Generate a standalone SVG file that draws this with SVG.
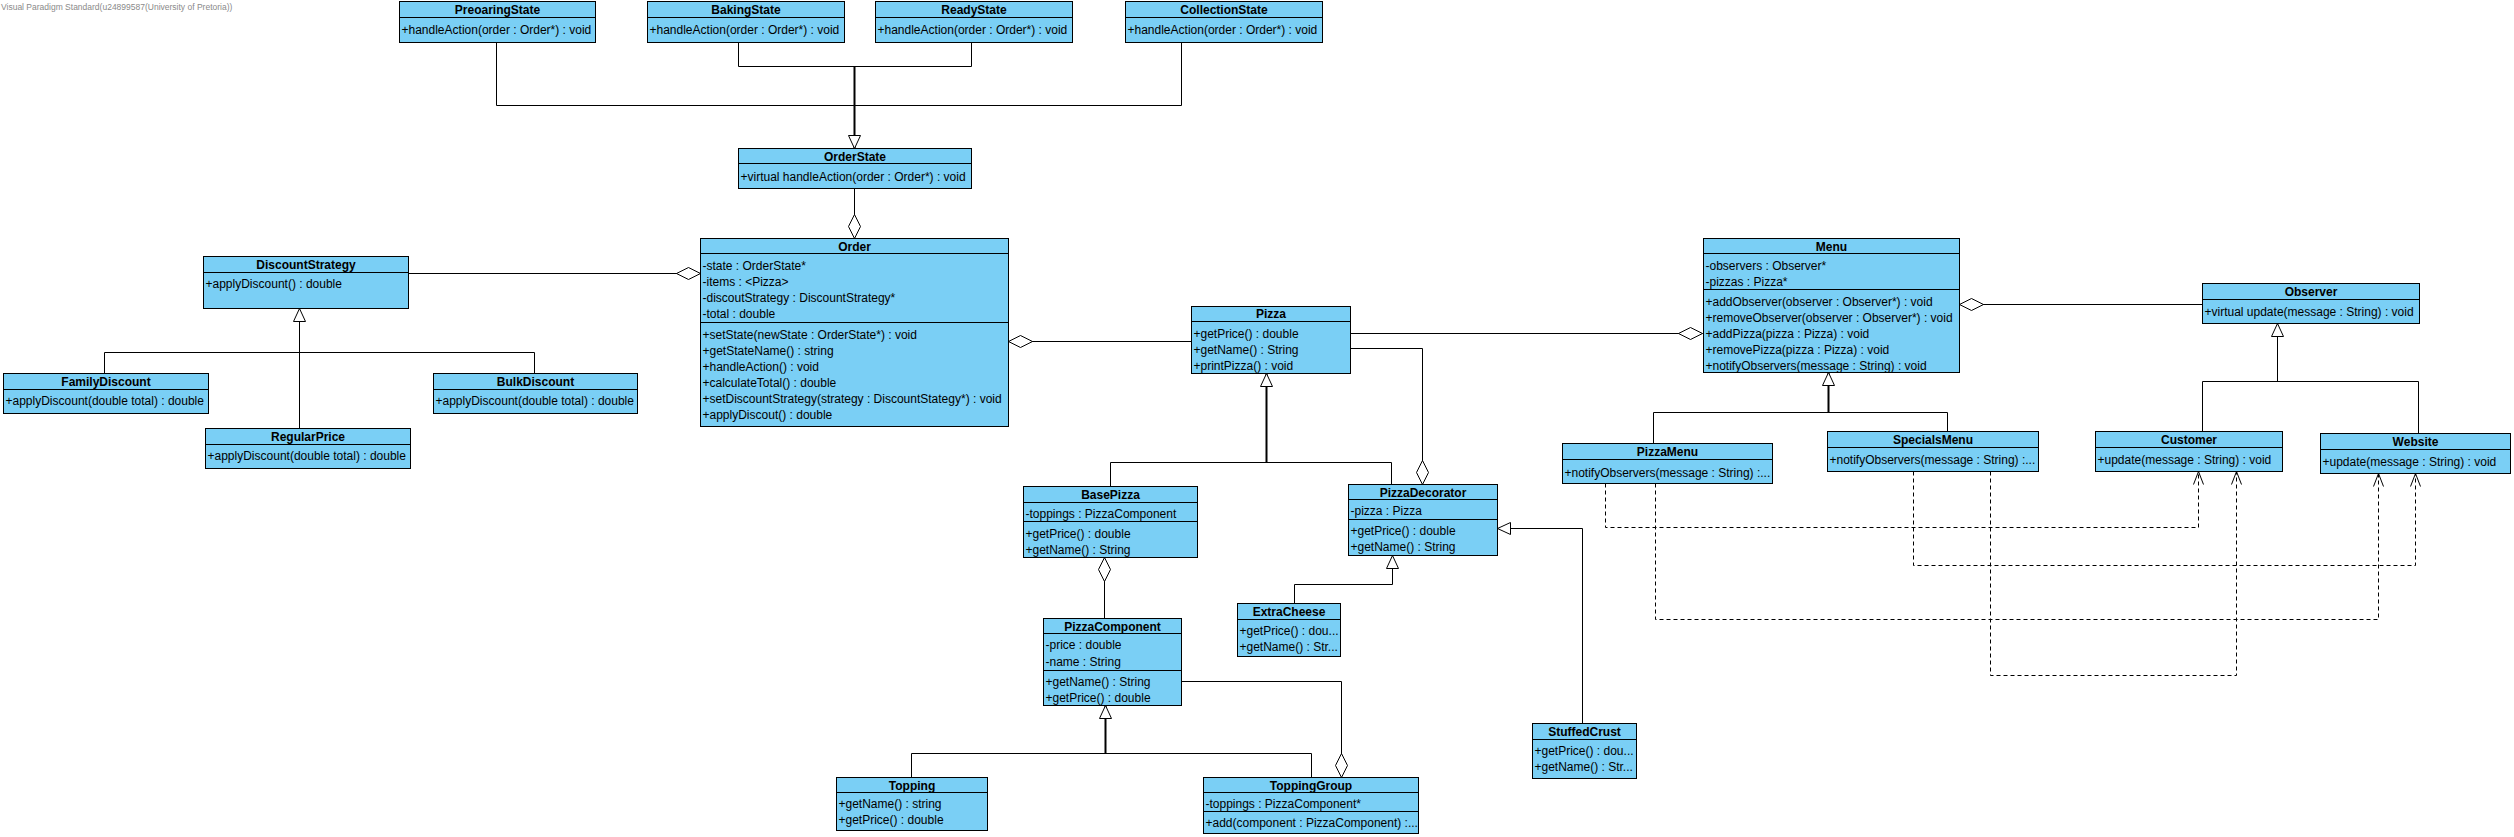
<svg xmlns="http://www.w3.org/2000/svg" width="2514" height="837" viewBox="0 0 2514 837">
<style>
.box{fill:#7ACFF5;stroke:#000;stroke-width:1}
.sep{stroke:#000;stroke-width:1}
.t{font-family:"Liberation Sans",Arial,sans-serif;font-size:12px;fill:#000}
.ti{font-weight:bold;text-anchor:middle}
.ln{fill:none;stroke:#000;stroke-width:1}
.thick{stroke-width:2}
.dash{stroke-dasharray:4 3}
.wm{font-family:"Liberation Sans",Arial,sans-serif;font-size:8.5px;fill:#8a8a8a}
</style>
<defs>
<marker id="gen" markerUnits="userSpaceOnUse" markerWidth="16" markerHeight="16" viewBox="-14 -8 16 16" refX="0" refY="0" orient="auto">
<path d="M0,0 L-13,-6 L-13,6 Z" fill="#fff" stroke="#000" stroke-width="1"/>
</marker>
<marker id="agg" markerUnits="userSpaceOnUse" markerWidth="28" markerHeight="16" viewBox="-26 -8 28 16" refX="0" refY="0" orient="auto">
<path d="M0,0 L-12,-6 L-24,0 L-12,6 Z" fill="#fff" stroke="#000" stroke-width="1"/>
</marker>
<marker id="dep" markerUnits="userSpaceOnUse" markerWidth="16" markerHeight="16" viewBox="-14 -8 16 16" refX="0" refY="0" orient="auto">
<path d="M-13,-5 L0,0 L-13,5" fill="none" stroke="#000" stroke-width="1"/>
</marker>
</defs>
<rect x="0" y="0" width="2514" height="837" fill="#fff"/>
<text class="wm" x="1" y="10">Visual Paradigm Standard(u24899587(University of Pretoria))</text>
<g transform="translate(0.5,0.5)">
<g id="connectors">
<!-- state generalizations -->
<path class="ln" d="M496,42 V105 H1181 V42"/>
<path class="ln" d="M738,42 V66 H971 V42"/>
<path class="ln thick" d="M854,66 V148" marker-end="url(#gen)"/>
<!-- OrderState - Order -->
<path class="ln" d="M854,188 V238" marker-end="url(#agg)"/>
<!-- DiscountStrategy - Order -->
<path class="ln" d="M408,273 H700" marker-end="url(#agg)"/>
<!-- discount generalization -->
<path class="ln" d="M104,373 V352 H534 V373"/>
<path class="ln" d="M299,428 V308" marker-end="url(#gen)"/>
<!-- Order - Pizza -->
<path class="ln" d="M1191,341 H1008" marker-end="url(#agg)"/>
<!-- Pizza - Menu -->
<path class="ln" d="M1350,333 H1702" marker-end="url(#agg)"/>
<!-- Menu - Observer -->
<path class="ln" d="M2202,304 H1959" marker-end="url(#agg)"/>
<!-- Pizza - PizzaDecorator -->
<path class="ln" d="M1350,348 H1422 V484" marker-end="url(#agg)"/>
<!-- Pizza generalization -->
<path class="ln" d="M1110,486 V462 H1391 V484"/>
<path class="ln thick" d="M1266,462 V373" marker-end="url(#gen)"/>
<!-- ExtraCheese - PizzaDecorator -->
<path class="ln" d="M1294,603 V584 H1392 V555" marker-end="url(#gen)"/>
<!-- StuffedCrust - PizzaDecorator -->
<path class="ln" d="M1582,723 V528 H1497" marker-end="url(#gen)"/>
<!-- BasePizza - PizzaComponent -->
<path class="ln" d="M1104,618 V557" marker-end="url(#agg)"/>
<!-- PizzaComponent generalization -->
<path class="ln" d="M911,777 V753 H1311 V777"/>
<path class="ln thick" d="M1105,753 V705" marker-end="url(#gen)"/>
<!-- PizzaComponent - ToppingGroup -->
<path class="ln" d="M1181,681 H1341 V777" marker-end="url(#agg)"/>
<!-- Menu generalization -->
<path class="ln" d="M1653,443 V412 H1947 V431"/>
<path class="ln thick" d="M1828,412 V372" marker-end="url(#gen)"/>
<!-- Observer generalization -->
<path class="ln" d="M2202,431 V381 H2418 V433"/>
<path class="ln" d="M2277,381 V323" marker-end="url(#gen)"/>
<!-- dependencies -->
<path class="ln dash" d="M1605,483 V527 H2198 V471" marker-end="url(#dep)"/>
<path class="ln dash" d="M1655,483 V619 H2378 V473" marker-end="url(#dep)"/>
<path class="ln dash" d="M1913,471 V565 H2415 V473" marker-end="url(#dep)"/>
<path class="ln dash" d="M1990,471 V675 H2236 V471" marker-end="url(#dep)"/>
</g>

<g id="PreoaringState">
<rect class="box" x="399" y="1" width="196" height="41"/>
<line class="sep" x1="399" y1="17" x2="595" y2="17"/>
<text class="t ti" x="497" y="13">PreoaringState</text>
<text class="t" x="401" y="33">+handleAction(order : Order*) : void</text>
</g>
<g id="BakingState">
<rect class="box" x="647" y="1" width="197" height="41"/>
<line class="sep" x1="647" y1="17" x2="844" y2="17"/>
<text class="t ti" x="745.5" y="13">BakingState</text>
<text class="t" x="649" y="33">+handleAction(order : Order*) : void</text>
</g>
<g id="ReadyState">
<rect class="box" x="875" y="1" width="197" height="41"/>
<line class="sep" x1="875" y1="17" x2="1072" y2="17"/>
<text class="t ti" x="973.5" y="13">ReadyState</text>
<text class="t" x="877" y="33">+handleAction(order : Order*) : void</text>
</g>
<g id="CollectionState">
<rect class="box" x="1125" y="1" width="197" height="41"/>
<line class="sep" x1="1125" y1="17" x2="1322" y2="17"/>
<text class="t ti" x="1223.5" y="13">CollectionState</text>
<text class="t" x="1127" y="33">+handleAction(order : Order*) : void</text>
</g>
<g id="OrderState">
<rect class="box" x="738" y="148" width="233" height="40"/>
<line class="sep" x1="738" y1="163" x2="971" y2="163"/>
<text class="t ti" x="854.5" y="160">OrderState</text>
<text class="t" x="740" y="180">+virtual handleAction(order : Order*) : void</text>
</g>
<g id="Order">
<rect class="box" x="700" y="238" width="308" height="188"/>
<line class="sep" x1="700" y1="253" x2="1008" y2="253"/>
<line class="sep" x1="700" y1="322" x2="1008" y2="322"/>
<text class="t ti" x="854" y="250">Order</text>
<text class="t" x="702" y="269">-state : OrderState*</text>
<text class="t" x="702" y="285">-items : &lt;Pizza&gt;</text>
<text class="t" x="702" y="301">-discoutStrategy : DiscountStrategy*</text>
<text class="t" x="702" y="317">-total : double</text>
<text class="t" x="702" y="338">+setState(newState : OrderState*) : void</text>
<text class="t" x="702" y="354">+getStateName() : string</text>
<text class="t" x="702" y="370">+handleAction() : void</text>
<text class="t" x="702" y="386">+calculateTotal() : double</text>
<text class="t" x="702" y="402">+setDiscountStrategy(strategy : DiscountStategy*) : void</text>
<text class="t" x="702" y="418">+applyDiscout() : double</text>
</g>
<g id="DiscountStrategy">
<rect class="box" x="203" y="256" width="205" height="52"/>
<line class="sep" x1="203" y1="272" x2="408" y2="272"/>
<text class="t ti" x="305.5" y="268">DiscountStrategy</text>
<text class="t" x="205" y="287">+applyDiscount() : double</text>
</g>
<g id="FamilyDiscount">
<rect class="box" x="3" y="373" width="205" height="40"/>
<line class="sep" x1="3" y1="389" x2="208" y2="389"/>
<text class="t ti" x="105.5" y="385">FamilyDiscount</text>
<text class="t" x="5" y="404">+applyDiscount(double total) : double</text>
</g>
<g id="BulkDiscount">
<rect class="box" x="433" y="373" width="204" height="40"/>
<line class="sep" x1="433" y1="389" x2="637" y2="389"/>
<text class="t ti" x="535" y="385">BulkDiscount</text>
<text class="t" x="435" y="404">+applyDiscount(double total) : double</text>
</g>
<g id="RegularPrice">
<rect class="box" x="205" y="428" width="205" height="40"/>
<line class="sep" x1="205" y1="444" x2="410" y2="444"/>
<text class="t ti" x="307.5" y="440">RegularPrice</text>
<text class="t" x="207" y="459">+applyDiscount(double total) : double</text>
</g>
<g id="Pizza">
<rect class="box" x="1191" y="306" width="159" height="67"/>
<line class="sep" x1="1191" y1="321" x2="1350" y2="321"/>
<text class="t ti" x="1270.5" y="317">Pizza</text>
<text class="t" x="1193" y="337">+getPrice() : double</text>
<text class="t" x="1193" y="353">+getName() : String</text>
<text class="t" x="1193" y="369">+printPizza() : void</text>
</g>
<g id="BasePizza">
<rect class="box" x="1023" y="486" width="174" height="71"/>
<line class="sep" x1="1023" y1="502" x2="1197" y2="502"/>
<line class="sep" x1="1023" y1="521" x2="1197" y2="521"/>
<text class="t ti" x="1110" y="498">BasePizza</text>
<text class="t" x="1025" y="517">-toppings : PizzaComponent</text>
<text class="t" x="1025" y="537">+getPrice() : double</text>
<text class="t" x="1025" y="553">+getName() : String</text>
</g>
<g id="PizzaDecorator">
<rect class="box" x="1348" y="484" width="149" height="71"/>
<line class="sep" x1="1348" y1="499" x2="1497" y2="499"/>
<line class="sep" x1="1348" y1="519" x2="1497" y2="519"/>
<text class="t ti" x="1422.5" y="496">PizzaDecorator</text>
<text class="t" x="1350" y="514">-pizza : Pizza</text>
<text class="t" x="1350" y="534">+getPrice() : double</text>
<text class="t" x="1350" y="550">+getName() : String</text>
</g>
<g id="ExtraCheese">
<rect class="box" x="1237" y="603" width="103" height="53"/>
<line class="sep" x1="1237" y1="619" x2="1340" y2="619"/>
<text class="t ti" x="1288.5" y="615">ExtraCheese</text>
<text class="t" x="1239" y="634">+getPrice() : dou...</text>
<text class="t" x="1239" y="650">+getName() : Str...</text>
</g>
<g id="StuffedCrust">
<rect class="box" x="1532" y="723" width="104" height="55"/>
<line class="sep" x1="1532" y1="739" x2="1636" y2="739"/>
<text class="t ti" x="1584" y="735">StuffedCrust</text>
<text class="t" x="1534" y="754">+getPrice() : dou...</text>
<text class="t" x="1534" y="770">+getName() : Str...</text>
</g>
<g id="PizzaComponent">
<rect class="box" x="1043" y="618" width="138" height="87"/>
<line class="sep" x1="1043" y1="633" x2="1181" y2="633"/>
<line class="sep" x1="1043" y1="670" x2="1181" y2="670"/>
<text class="t ti" x="1112" y="630">PizzaComponent</text>
<text class="t" x="1045" y="648">-price : double</text>
<text class="t" x="1045" y="665">-name : String</text>
<text class="t" x="1045" y="685">+getName() : String</text>
<text class="t" x="1045" y="701">+getPrice() : double</text>
</g>
<g id="Topping">
<rect class="box" x="836" y="777" width="151" height="53"/>
<line class="sep" x1="836" y1="792" x2="987" y2="792"/>
<text class="t ti" x="911.5" y="789">Topping</text>
<text class="t" x="838" y="807">+getName() : string</text>
<text class="t" x="838" y="823">+getPrice() : double</text>
</g>
<g id="ToppingGroup">
<rect class="box" x="1203" y="777" width="215" height="56"/>
<line class="sep" x1="1203" y1="792" x2="1418" y2="792"/>
<line class="sep" x1="1203" y1="811" x2="1418" y2="811"/>
<text class="t ti" x="1310.5" y="789">ToppingGroup</text>
<text class="t" x="1205" y="807">-toppings : PizzaComponent*</text>
<text class="t" x="1205" y="826">+add(component : PizzaComponent) :...</text>
</g>
<g id="Menu">
<rect class="box" x="1703" y="238" width="256" height="134"/>
<line class="sep" x1="1703" y1="253" x2="1959" y2="253"/>
<line class="sep" x1="1703" y1="289" x2="1959" y2="289"/>
<text class="t ti" x="1831" y="250">Menu</text>
<text class="t" x="1705" y="269">-observers : Observer*</text>
<text class="t" x="1705" y="285">-pizzas : Pizza*</text>
<text class="t" x="1705" y="305">+addObserver(observer : Observer*) : void</text>
<text class="t" x="1705" y="321">+removeObserver(observer : Observer*) : void</text>
<text class="t" x="1705" y="337">+addPizza(pizza : Pizza) : void</text>
<text class="t" x="1705" y="353">+removePizza(pizza : Pizza) : void</text>
<text class="t" x="1705" y="369">+notifyObservers(message : String) : void</text>
</g>
<g id="Observer">
<rect class="box" x="2202" y="283" width="217" height="40"/>
<line class="sep" x1="2202" y1="299" x2="2419" y2="299"/>
<text class="t ti" x="2310.5" y="295">Observer</text>
<text class="t" x="2204" y="315">+virtual update(message : String) : void</text>
</g>
<g id="PizzaMenu">
<rect class="box" x="1562" y="443" width="210" height="40"/>
<line class="sep" x1="1562" y1="459" x2="1772" y2="459"/>
<text class="t ti" x="1667" y="455">PizzaMenu</text>
<text class="t" x="1564" y="476">+notifyObservers(message : String) :...</text>
</g>
<g id="SpecialsMenu">
<rect class="box" x="1827" y="431" width="211" height="40"/>
<line class="sep" x1="1827" y1="447" x2="2038" y2="447"/>
<text class="t ti" x="1932.5" y="443">SpecialsMenu</text>
<text class="t" x="1829" y="463">+notifyObservers(message : String) :...</text>
</g>
<g id="Customer">
<rect class="box" x="2095" y="431" width="187" height="40"/>
<line class="sep" x1="2095" y1="447" x2="2282" y2="447"/>
<text class="t ti" x="2188.5" y="443">Customer</text>
<text class="t" x="2097" y="463">+update(message : String) : void</text>
</g>
<g id="Website">
<rect class="box" x="2320" y="433" width="190" height="40"/>
<line class="sep" x1="2320" y1="449" x2="2510" y2="449"/>
<text class="t ti" x="2415" y="445">Website</text>
<text class="t" x="2322" y="465">+update(message : String) : void</text>
</g>
</g>
</svg>
